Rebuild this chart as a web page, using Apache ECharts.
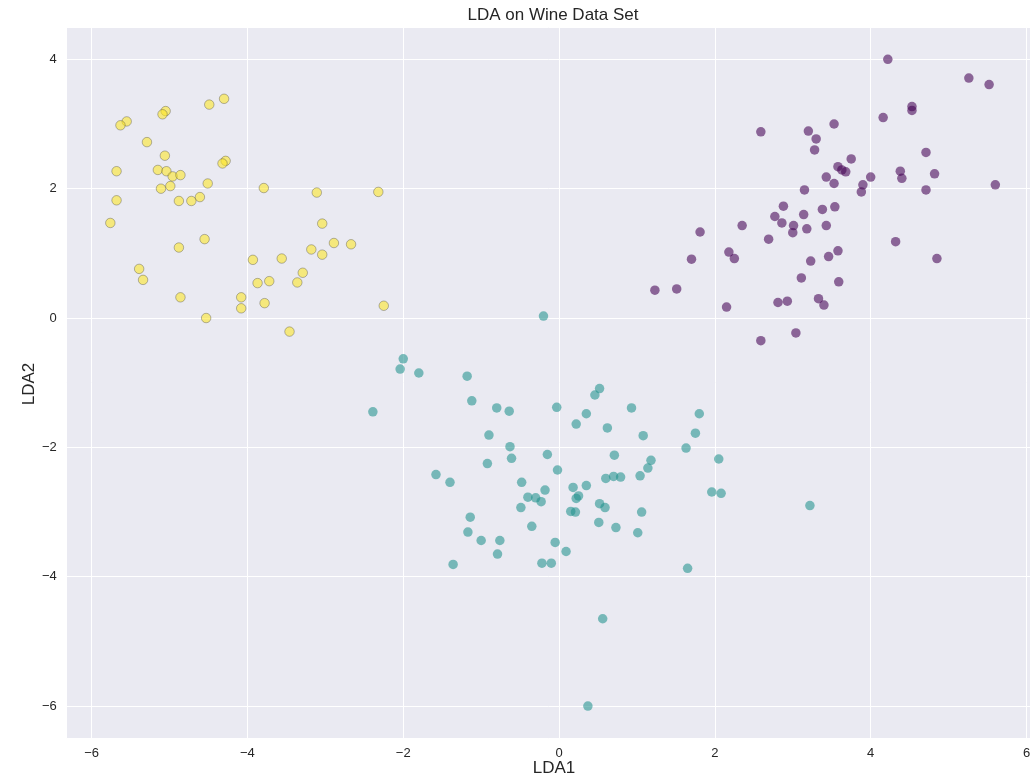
<!DOCTYPE html>
<html>
<head>
<meta charset="utf-8">
<title>LDA on Wine Data Set</title>
<script src="https://cdn.jsdelivr.net/npm/echarts@6/dist/echarts.min.js"></script>
<style>
  html, body { margin: 0; padding: 0; background: #ffffff; }
  #chart { width: 1030px; height: 781px; }
</style>
</head>
<body>
<div id="chart"></div>
<script>
// Wine samples projected onto the first two linear discriminants, one array per cultivar.
const class0 = [
  [4.22, 4.00], [5.26, 3.71], [5.52, 3.61], [4.53, 3.27], [4.53, 3.21], [4.16, 3.10],
  [3.53, 3.00], [2.59, 2.88], [3.20, 2.89], [3.30, 2.77], [3.28, 2.60], [4.71, 2.56],
  [3.75, 2.46], [3.58, 2.34], [3.63, 2.29], [3.68, 2.26], [4.38, 2.27], [4.40, 2.16],
  [4.82, 2.23], [3.43, 2.18], [4.00, 2.18], [3.53, 2.08], [3.90, 2.06], [3.88, 1.95],
  [4.71, 1.98], [5.60, 2.06], [3.15, 1.98], [2.88, 1.73], [3.14, 1.60], [3.38, 1.68],
  [3.54, 1.72], [2.77, 1.57], [2.86, 1.47], [3.01, 1.43], [3.00, 1.32], [3.18, 1.38],
  [3.43, 1.43], [2.35, 1.43], [1.81, 1.33], [2.69, 1.22], [4.32, 1.18], [2.18, 1.02],
  [2.25, 0.92], [1.70, 0.91], [3.58, 1.04], [3.46, 0.95], [3.23, 0.88], [4.85, 0.92],
  [3.11, 0.62], [3.59, 0.56], [1.23, 0.43], [1.51, 0.45], [2.15, 0.17], [2.81, 0.24],
  [2.93, 0.26], [3.33, 0.30], [3.40, 0.20], [3.04, -0.23], [2.59, -0.35]
];

const class1 = [
  [-0.20, 0.03], [-2.00, -0.63], [-2.04, -0.79], [-1.80, -0.85], [-2.39, -1.45],
  [-1.58, -2.42], [-1.40, -2.54],
  [-1.18, -0.90], [-1.12, -1.28], [-0.80, -1.39], [-0.64, -1.44], [-0.03, -1.38],
  [0.46, -1.19], [0.52, -1.09], [0.35, -1.48], [0.22, -1.64], [0.93, -1.39],
  [0.62, -1.70], [1.08, -1.82], [1.80, -1.48], [1.75, -1.78], [1.63, -2.01],
  [-0.90, -1.81], [-0.63, -1.99], [-0.61, -2.17], [-0.92, -2.25], [-0.15, -2.11],
  [-0.02, -2.35], [0.71, -2.12], [1.18, -2.20], [1.14, -2.32], [1.04, -2.44],
  [0.60, -2.48], [0.70, -2.45], [0.79, -2.46], [-0.48, -2.54], [-0.18, -2.66],
  [0.18, -2.62], [0.35, -2.59], [-0.40, -2.77], [-0.30, -2.78], [-0.23, -2.84],
  [0.25, -2.75], [0.22, -2.79], [-0.49, -2.93], [0.52, -2.87], [0.59, -2.93],
  [0.15, -2.99], [0.21, -3.00], [1.06, -3.00], [-1.14, -3.08], [-0.35, -3.22],
  [0.51, -3.16], [0.73, -3.24], [1.01, -3.32], [-1.17, -3.31], [-1.00, -3.44],
  [-0.76, -3.44], [-0.05, -3.47], [-0.79, -3.65], [0.09, -3.61], [-0.22, -3.79],
  [-0.10, -3.79], [1.65, -3.87],
  [2.05, -2.18], [1.96, -2.69], [2.08, -2.71], [3.22, -2.90],
  [-1.36, -3.81], [0.56, -4.65], [0.37, -6.00]
];

const class2 = [
  [-4.30, 3.39], [-4.49, 3.30], [-5.05, 3.20], [-5.09, 3.15], [-5.55, 3.04], [-5.63, 2.98],
  [-5.29, 2.72], [-5.06, 2.51], [-4.28, 2.43], [-4.32, 2.39], [-5.68, 2.27], [-5.15, 2.29],
  [-5.04, 2.27], [-4.96, 2.19], [-4.86, 2.21], [-4.51, 2.08], [-4.99, 2.04], [-5.11, 2.00],
  [-3.79, 2.01], [-5.68, 1.82], [-4.88, 1.81], [-4.72, 1.81], [-4.61, 1.87], [-3.11, 1.94],
  [-2.32, 1.95], [-5.76, 1.47], [-3.04, 1.46], [-4.55, 1.22], [-4.88, 1.09], [-3.18, 1.06],
  [-2.89, 1.16], [-2.67, 1.14], [-3.04, 0.98], [-3.93, 0.90], [-3.56, 0.92], [-3.29, 0.70],
  [-5.39, 0.76], [-5.34, 0.59], [-3.87, 0.54], [-3.72, 0.57], [-3.36, 0.55], [-4.86, 0.32],
  [-4.08, 0.32], [-4.08, 0.15], [-3.78, 0.23], [-2.25, 0.19], [-4.53, 0.00], [-3.46, -0.21]
];

const titleText = 'LDA on Wine Data Set';
const xName = 'LDA1';
const yName = 'LDA2';

const textColor = '#262626';
const fontFamily = 'Liberation Sans, Arial, sans-serif';

// Proper minus sign on negative tick labels.
const fmt = v => (v < 0 ? '\u2212' + Math.abs(v) : String(v));

const chart = echarts.init(document.getElementById('chart'), null, { renderer: 'canvas' });

const scatter = (data, color, border) => ({
  type: 'scatter',
  data: data,
  symbol: 'circle',
  symbolSize: 9.5,
  itemStyle: {
    color: color,
    borderColor: border || 'transparent',
    borderWidth: border ? 0.9 : 0
  },
  emphasis: { disabled: true },
  silent: true
});

chart.setOption({
  animation: false,
  backgroundColor: '#ffffff',
  textStyle: { fontFamily: fontFamily },
  grid: {
    left: 66.7,
    right: 0,
    top: 27,
    bottom: 42.6,
    outerBoundsMode: 'none',
    containLabel: false,
    show: true,
    backgroundColor: '#EAEAF2',
    borderWidth: 0
  },
  graphic: [
    {
      type: 'text',
      x: 553,
      y: 15,
      style: {
        text: titleText,
        fill: textColor,
        font: '17px ' + fontFamily,
        textAlign: 'center',
        textVerticalAlign: 'middle'
      }
    },
    {
      type: 'text',
      x: 554,
      y: 768,
      style: {
        text: xName,
        fill: textColor,
        font: '17px ' + fontFamily,
        textAlign: 'center',
        textVerticalAlign: 'middle'
      }
    },
    {
      type: 'text',
      x: 29,
      y: 384,
      rotation: Math.PI / 2,
      style: {
        text: yName,
        fill: textColor,
        font: '17px ' + fontFamily,
        textAlign: 'center',
        textVerticalAlign: 'middle'
      }
    }
  ],
  xAxis: {
    type: 'value',
    min: -6.32,
    max: 6.045,
    splitNumber: 6,
    axisLine: { show: false },
    axisTick: { show: false },
    splitLine: { show: true, lineStyle: { color: '#ffffff', width: 1 } },
    axisLabel: {
      showMinLabel: false,
      showMaxLabel: false,
      color: textColor,
      fontSize: 13,
      margin: 9,
      formatter: fmt
    }
  },
  yAxis: {
    type: 'value',
    min: -6.5,
    max: 4.5,
    splitNumber: 5,
    axisLine: { show: false },
    axisTick: { show: false },
    splitLine: { show: true, lineStyle: { color: '#ffffff', width: 1 } },
    axisLabel: {
      showMinLabel: false,
      showMaxLabel: false,
      color: textColor,
      fontSize: 13,
      margin: 10,
      formatter: fmt
    }
  },
  series: [
    scatter(class0, 'rgba(68, 1, 84, 0.72)'),
    scatter(class1, 'rgba(33, 145, 140, 0.72)'),
    scatter(class2, 'rgba(253, 231, 37, 0.72)', 'rgba(60, 60, 60, 0.5)')
  ]
});
</script>
</body>
</html>
